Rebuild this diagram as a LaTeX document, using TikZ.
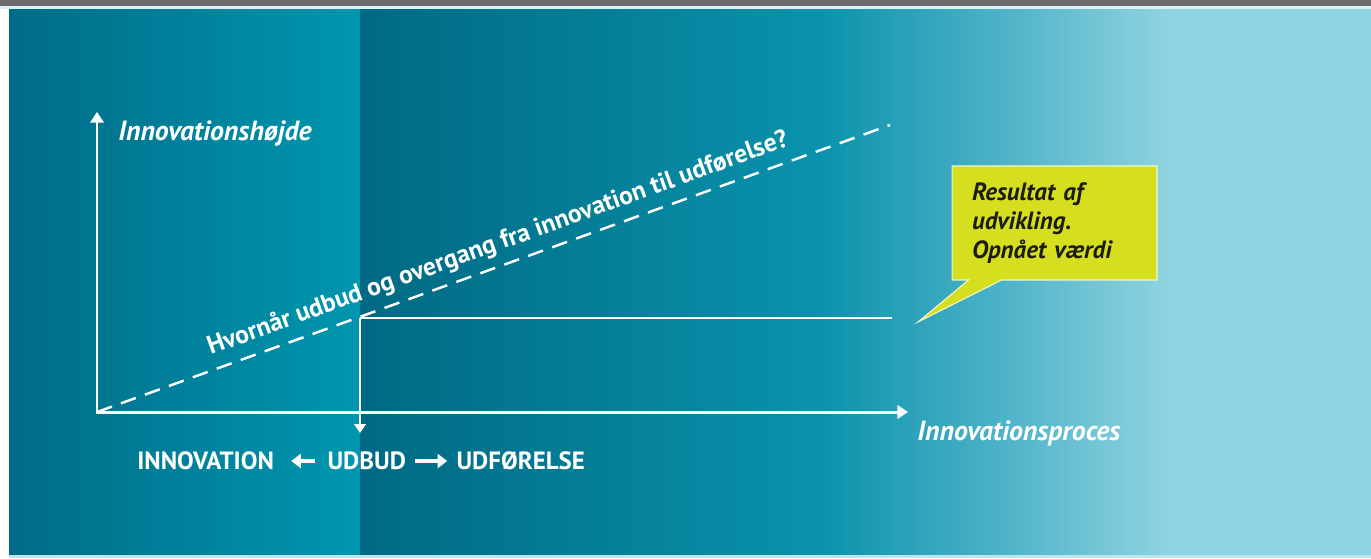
\documentclass[tikz,border=0pt]{standalone}
\usepackage{fontspec}
\setmainfont{PT Sans}
\usetikzlibrary{arrows.meta, calc, positioning, shapes.callouts}

\definecolor{barGray}{HTML}{6C6B70}
\definecolor{barLine}{HTML}{D8F2F6}
\definecolor{panelA}{HTML}{006B87}
\definecolor{panelB}{HTML}{0096AF}
\definecolor{panelC}{HTML}{006983}
\definecolor{panelD}{HTML}{0A92AC}
\definecolor{panelE}{HTML}{4DB2C8}
\definecolor{panelF}{HTML}{8FD4E0}
\definecolor{calloutFill}{HTML}{D5DF1F}
\definecolor{calloutText}{HTML}{1C1C14}

\begin{document}
\begin{tikzpicture}[
    x=0.02cm, y=-0.02cm,
    font=\bfseries,
    >={Triangle[length=6pt,width=7.5pt]},
    % Styles
    axis/.style={
      draw=white,
      line width=1.7pt
    },
    guide/.style={
      draw=white,
      line width=1.2pt
    },
    dashline/.style={
      draw=white,
      line width=1.4pt,
      dash pattern=on 9pt off 5.5pt
    },
    steparrow/.style={
      -{Triangle[length=5.5pt,width=8pt]},
      draw=white,
      line width=1.8pt
    },
    axislabel/.style={
      text=white,
      font=\bfseries\itshape\fontsize{15.8}{18}\selectfont,
      inner sep=0pt
    },
    steplabel/.style={
      text=white,
      font=\bfseries\fontsize{14.2}{17}\selectfont,
      inner sep=0pt
    },
    qtext/.style={
      text=white,
      font=\bfseries\fontsize{14.6}{17}\selectfont,
      inner sep=0pt
    },
    resultbox/.style={
      rectangle callout,
      fill=calloutFill,
      draw=white!75!calloutFill,
      line width=0.6pt,
      text=calloutText,
      font=\bfseries\itshape\fontsize{14.2}{16.4}\selectfont,
      align=left,
      text width=3.3cm,
      inner xsep=0.4cm,
      minimum height=2.28cm,
      callout pointer width=0.66cm
    }
  ]

    % Background panels
    \useasboundingbox (0,0) rectangle (1371,558);
    \fill [white] (0,0) rectangle (1371,558);
    \shade [left color=panelA, right color=panelB] (9,9) rectangle (360,555);
    \shade [left color=panelC, right color=panelD] (360,9) rectangle (820,555);
    \shade [left color=panelD, right color=panelE] (819.5,9) rectangle (1000,555);
    \shade [left color=panelE, right color=panelF] (999.5,9) rectangle (1170,555);
    \fill [panelF] (1169.5,9) rectangle (1371,555);
    \fill [barLine!60!panelF] (9,555) rectangle (1371,558);
    \fill [barGray] (0,0) rectangle (1371,6);
    \fill [barLine] (0,6) rectangle (1371,8.5);

    % Coordinates
    \coordinate (origin) at (97,412);
    \coordinate (ytop) at (97,112);
    \coordinate (xend) at (908,412);
    \coordinate (dashend) at (890,125);
    \coordinate (cross) at (360,318);
    \coordinate (flatend) at (892,318);
    \coordinate (udbud) at (360,433);

    % Axes and lines
    \draw [dashline] (origin) -- (dashend);
    \draw [guide] (flatend) -- (cross);
    \draw [guide, -{Triangle[length=5pt,width=6.5pt]}] (cross) -- (udbud);
    \draw [axis, <->] (ytop) -- (origin) -- (xend);

    % Axis labels
    \node (ylabel) [axislabel, anchor=west] at (118,133) {Innovationshøjde};
    \node (xlabel) [axislabel, anchor=west] at (917,433) {Innovationsproces};
    \node (question) [qtext, rotate=19.9, anchor=base]
      at ($(origin)!0.515!(dashend)!0.30cm!90:(dashend)$)
      {Hvornår udbud og overgang fra innovation til udførelse?};

    % Phases below the axis
    \node (innov) [steplabel, anchor=west] at (137,461) {INNOVATION};
    \node (offer) [steplabel, right=1.06cm of innov] {UDBUD};
    \node (exec) [steplabel, right=1.0cm of offer] {UDFØRELSE};
    \draw [steparrow, shorten <=0.24cm, shorten >=0.34cm] (offer) -- (innov);
    \draw [steparrow, shorten <=0.18cm, shorten >=0.18cm] (offer) -- (exec);

    % Callout
    \node (result) [resultbox, callout absolute pointer={(918,322)}]
      at (1054.5,223) {Resultat af\\udvikling.\\Opnået værdi};

  \end{tikzpicture}
\end{document}
